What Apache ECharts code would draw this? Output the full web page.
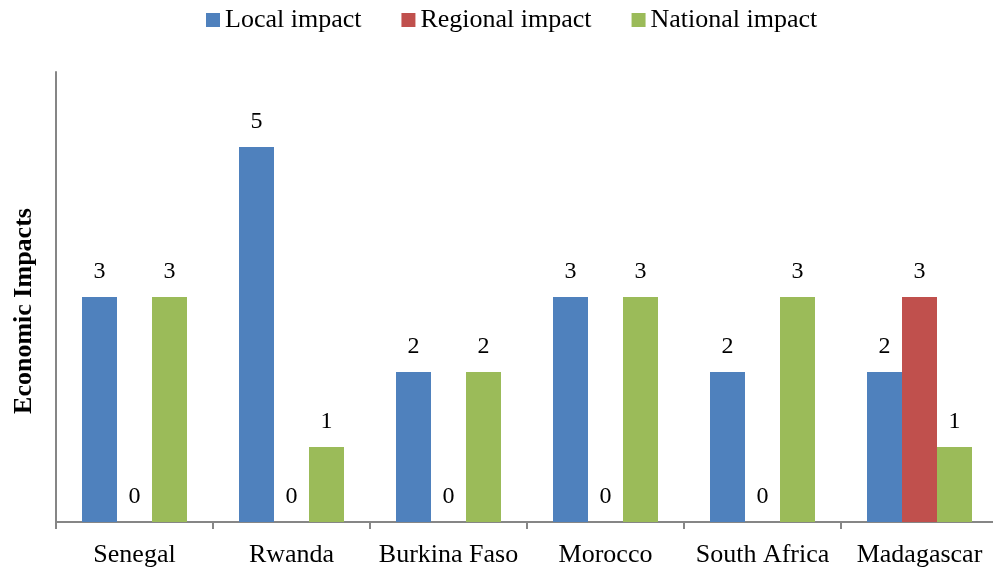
<!DOCTYPE html>
<html>
<head>
<meta charset="utf-8">
<script src="https://cdn.jsdelivr.net/npm/echarts@6/dist/echarts.min.js"></script>
<style>
  html, body { margin: 0; padding: 0; background: #fff; }
  #chart { width: 993px; height: 572px; }
</style>
</head>
<body>
<div id="chart"></div>
<script>
// data
const countries = ["Senegal", "Rwanda", "Burkina Faso", "Morocco", "South Africa", "Madagascar"];
const localImpact = [3, 5, 2, 3, 2, 2];
const regionalImpact = [0, 0, 0, 0, 0, 3];
const nationalImpact = [3, 1, 2, 3, 3, 1];

const serif = "'Liberation Serif', 'DejaVu Serif', serif";

const chart = echarts.init(document.getElementById("chart"));

// shared bar look
function barSeries(name, data, color) {
  return {
    name: name,
    type: "bar",
    data: data,
    barWidth: 35,
    barGap: "0%",
    itemStyle: { color: color },
    label: {
      show: true,
      position: "top",
      distance: 13,
      color: "#000",
      fontSize: 24,
      fontFamily: serif
    }
  };
}

chart.setOption({
  animation: false,
  textStyle: { fontFamily: serif },
  legend: {
    top: 2,
    left: 201,
    itemWidth: 14,
    itemHeight: 14,
    itemGap: 40,
    icon: "rect",
    textStyle: { fontSize: 26, color: "#000", fontFamily: serif },
    data: ["Local impact", "Regional impact", "National impact"]
  },
  grid: { left: 56, top: 72, width: 942, height: 450, containLabel: false, outerBoundsMode: "none" },
  xAxis: {
    type: "category",
    data: countries,
    axisLine: { lineStyle: { color: "#868686", width: 2 } },
    axisTick: { show: true, length: 7, lineStyle: { color: "#868686", width: 2 } },
    axisLabel: { color: "#000", fontSize: 26, margin: 20, fontFamily: serif, interval: 0 }
  },
  yAxis: {
    type: "value",
    min: 0,
    max: 6,
    interval: 1,
    name: "Economic Impacts",
    nameLocation: "middle",
    nameRotate: 90,
    nameGap: 19,
    nameTextStyle: { fontSize: 26, fontWeight: "bold", color: "#000", fontFamily: serif, padding: [0, 28, 0, 0] },
    axisLine: { show: true, lineStyle: { color: "#868686", width: 2 } },
    axisTick: { show: false },
    axisLabel: { show: false },
    splitLine: { show: false }
  },
  series: [
    barSeries("Local impact", localImpact, "#4F81BD"),
    barSeries("Regional impact", regionalImpact, "#C0504D"),
    barSeries("National impact", nationalImpact, "#9BBB59")
  ]
});
</script>
</body>
</html>
